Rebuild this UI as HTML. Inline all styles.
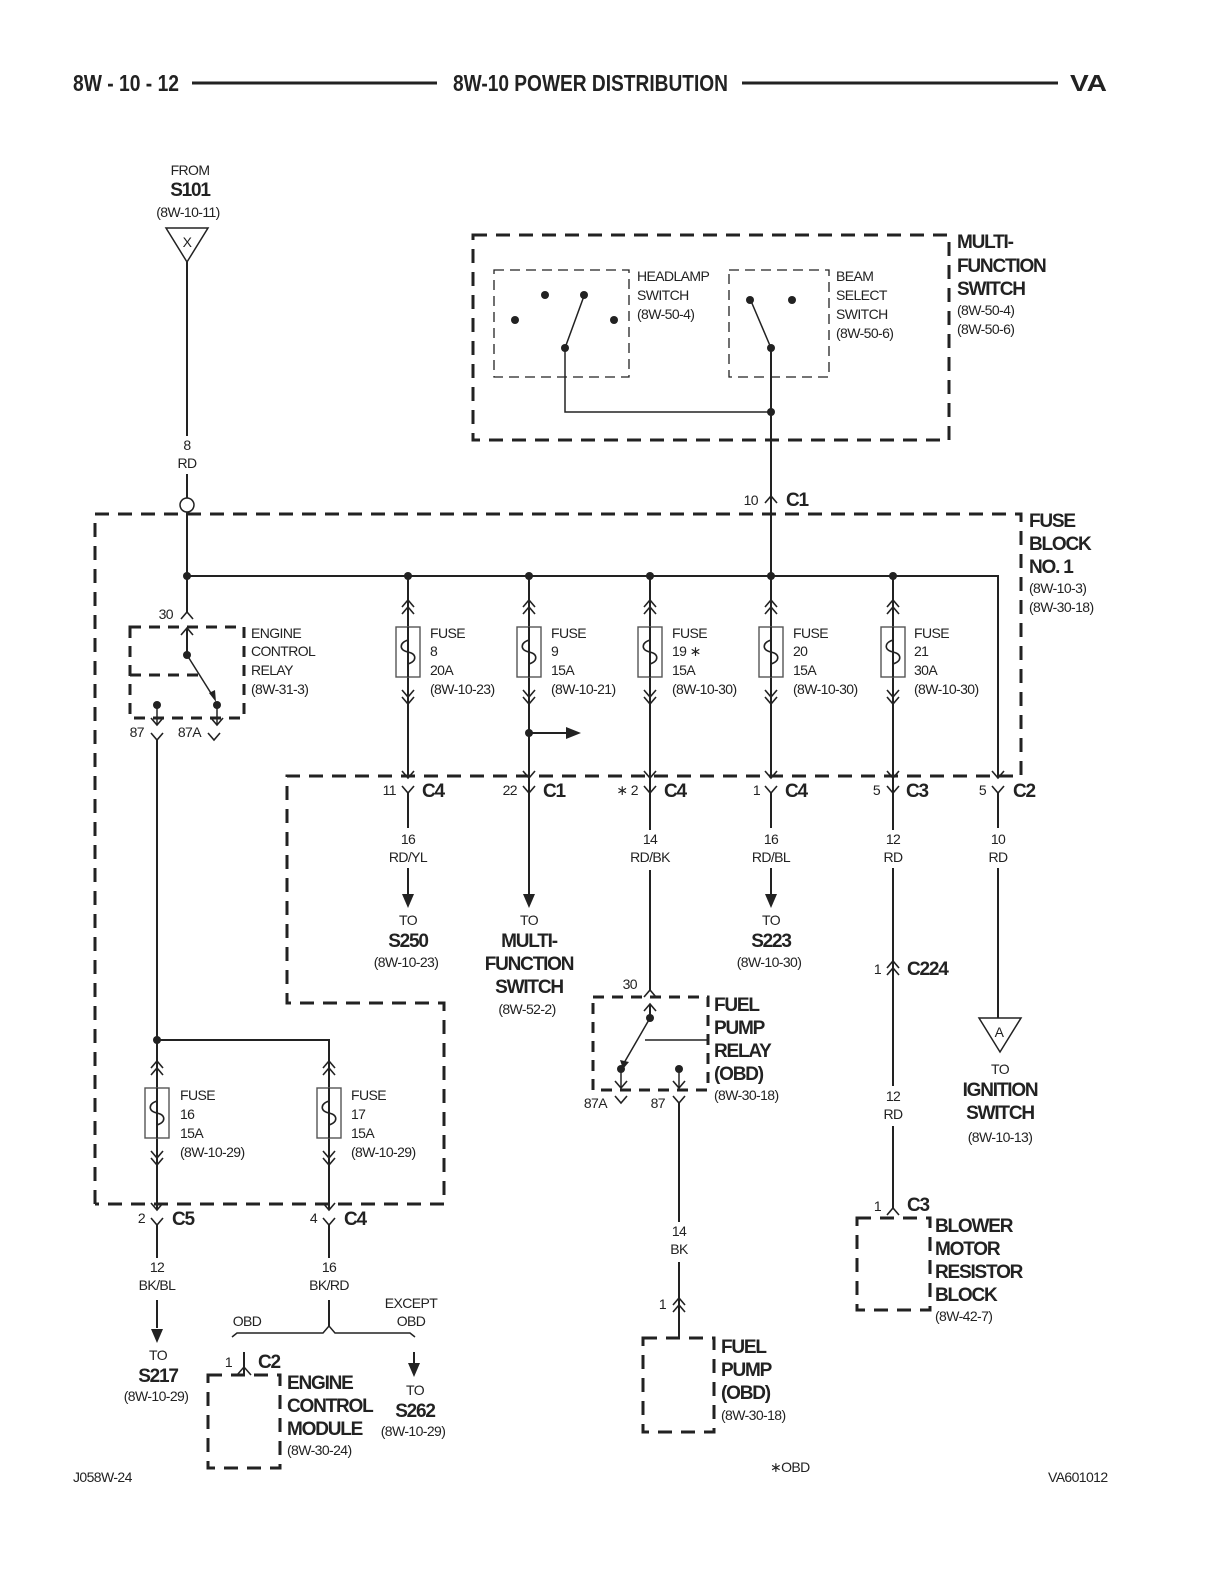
<!DOCTYPE html>
<html><head><meta charset="utf-8"><style>
html,body{margin:0;padding:0;background:#fff;overflow:hidden;width:1224px;height:1584px}
svg{display:block}
text{font-family:"Liberation Sans Narrow","Liberation Sans",sans-serif;fill:#222}
.s{font-size:14px;letter-spacing:-0.6px}
.b{font-size:19px;font-weight:bold;letter-spacing:-1.2px}
.h{font-size:23px;font-weight:bold}
.w{stroke:#222;stroke-width:2;fill:none}
.t{stroke:#222;stroke-width:1.5;fill:none}
.d{stroke:#222;stroke-width:3;fill:none;stroke-dasharray:14,9}
.dd{stroke:#222;stroke-width:1.3;fill:none;stroke-dasharray:10,6}
</style></head><body>
<svg width="1224" height="1584" viewBox="0 0 1224 1584" xmlns="http://www.w3.org/2000/svg">
<defs>
<path id="v" d="M-6,-7 L0,0 L6,-7" stroke="#222" stroke-width="1.6" fill="none"/>
<path id="c" d="M-6,7 L0,0 L6,7" stroke="#222" stroke-width="1.6" fill="none"/>
<g id="fuse">
<use href="#c" y="-27"/><use href="#c" y="-20"/>
<rect x="-12" y="0" width="24" height="50" fill="none" stroke="#555" stroke-width="1.4"/>
<path d="M0,0 V13 C-9,16 -9,23 0,25 C9,27 9,34 0,37 V50" stroke="#222" stroke-width="1.6" fill="none"/>
<use href="#v" y="70"/><use href="#v" y="77"/>
</g>
<path id="arr" d="M-6,-14 L6,-14 L0,0 Z" fill="#222"/>
<circle id="dot" r="4" fill="#222"/>
</defs>

<!-- header -->
<text x="73" y="91" class="h" textLength="106" lengthAdjust="spacingAndGlyphs">8W - 10 - 12</text>
<line x1="192" y1="83" x2="437" y2="83" stroke="#222" stroke-width="3"/>
<text x="453" y="91" class="h" textLength="275" lengthAdjust="spacingAndGlyphs">8W-10 POWER DISTRIBUTION</text>
<line x1="742" y1="83" x2="1058" y2="83" stroke="#222" stroke-width="3"/>
<text x="1070" y="91" class="h" textLength="37" lengthAdjust="spacingAndGlyphs">VA</text>

<!-- S101 -->
<text x="190" y="175" class="s" text-anchor="middle">FROM</text>
<text x="190" y="196" class="b" text-anchor="middle">S101</text>
<text x="188" y="217" class="s" text-anchor="middle">(8W-10-11)</text>
<path d="M166,228 L208,228 L187,262 Z" class="t"/>
<text x="187" y="247" class="s" text-anchor="middle">X</text>
<line x1="187" y1="262" x2="187" y2="436" class="w"/>
<text x="187" y="450" class="s" text-anchor="middle">8</text>
<text x="187" y="468" class="s" text-anchor="middle">RD</text>
<line x1="187" y1="474" x2="187" y2="498" class="w"/>
<circle cx="187" cy="505" r="7" fill="#fff" stroke="#222" stroke-width="1.5"/>
<line x1="187" y1="512" x2="187" y2="612" class="w"/>

<!-- Multi-function switch -->
<path d="M473,235 H949 V440 H473 Z" class="d"/>
<path d="M494,270 H629 V377 H494 Z" class="dd"/>
<path d="M729,270 H829 V377 H729 Z" class="dd"/>
<use href="#dot" x="515" y="320"/><use href="#dot" x="545" y="295"/><use href="#dot" x="584" y="295"/><use href="#dot" x="614" y="320"/>
<use href="#dot" x="565" y="348"/>
<line x1="565" y1="348" x2="584" y2="296" class="t"/>
<use href="#dot" x="750" y="300"/><use href="#dot" x="792" y="300"/><use href="#dot" x="771" y="348"/>
<line x1="771" y1="348" x2="751" y2="301" class="t"/>
<path d="M565,348 V412 H771" class="t"/>
<use href="#dot" x="771" y="412"/>
<line x1="771" y1="348" x2="771" y2="576" class="w"/>
<text x="637" y="281" class="s">HEADLAMP</text>
<text x="637" y="300" class="s">SWITCH</text>
<text x="637" y="319" class="s">(8W-50-4)</text>
<text x="836" y="281" class="s">BEAM</text>
<text x="836" y="300" class="s">SELECT</text>
<text x="836" y="319" class="s">SWITCH</text>
<text x="836" y="338" class="s">(8W-50-6)</text>
<text x="957" y="248" class="b">MULTI-</text>
<text x="957" y="272" class="b">FUNCTION</text>
<text x="957" y="295" class="b">SWITCH</text>
<text x="957" y="315" class="s">(8W-50-4)</text>
<text x="957" y="334" class="s">(8W-50-6)</text>
<use href="#c" x="771" y="496"/>
<text x="758" y="505" class="s" text-anchor="end">10</text>
<text x="786" y="506" class="b">C1</text>

<!-- Fuse block -->
<path d="M95,1204 V514 H1021 V776 H287 V1003 H444 V1204 H95" class="d"/>
<text x="1029" y="527" class="b">FUSE</text>
<text x="1029" y="550" class="b">BLOCK</text>
<text x="1029" y="573" class="b">NO. 1</text>
<text x="1029" y="593" class="s">(8W-10-3)</text>
<text x="1029" y="612" class="s">(8W-30-18)</text>

<path d="M187,576 H998 V778" class="w"/>
<use href="#dot" x="187" y="576"/><use href="#dot" x="408" y="576"/><use href="#dot" x="529" y="576"/><use href="#dot" x="650" y="576"/><use href="#dot" x="771" y="576"/><use href="#dot" x="893" y="576"/>

<!-- ECR -->
<use href="#c" x="187" y="612"/>
<text x="173" y="619" class="s" text-anchor="end">30</text>
<path d="M130,627 H244 V718 H130 Z" class="d" style="stroke-dasharray:11,8"/>
<line x1="130" y1="675" x2="200" y2="675" stroke="#222" stroke-width="3" stroke-dasharray="11,8"/>
<line x1="187" y1="628" x2="187" y2="655" class="w"/>
<use href="#c" x="187" y="628"/>
<use href="#dot" x="187" y="655"/>
<line x1="187" y1="655" x2="214" y2="698" class="t"/>
<path d="M209,693 L216,702 L215,690 Z" fill="#222"/>
<use href="#dot" x="157" y="705"/><use href="#dot" x="217" y="705"/>
<line x1="157" y1="705" x2="157" y2="725" class="t"/><line x1="217" y1="705" x2="217" y2="725" class="t"/>
<use href="#v" x="157" y="725"/><use href="#v" x="217" y="725"/>
<use href="#v" x="157" y="740"/><use href="#v" x="214" y="740"/>
<text x="144" y="737" class="s" text-anchor="end">87</text>
<text x="201" y="737" class="s" text-anchor="end">87A</text>
<text x="251" y="638" class="s">ENGINE</text>
<text x="251" y="656" class="s">CONTROL</text>
<text x="251" y="675" class="s">RELAY</text>
<text x="251" y="694" class="s">(8W-31-3)</text>
<line x1="157" y1="740" x2="157" y2="1210" class="w"/>
<path d="M157,1040 H329 V1210" class="w"/>
<use href="#dot" x="157" y="1040"/>

<!-- fuses in top row -->
<g class="w">
<line x1="408" y1="576" x2="408" y2="778"/>
<line x1="529" y1="576" x2="529" y2="895"/>
<line x1="650" y1="576" x2="650" y2="990"/>
<line x1="771" y1="576" x2="771" y2="778"/>
<line x1="893" y1="576" x2="893" y2="830"/>
</g>
<use href="#fuse" x="408" y="627"/><use href="#fuse" x="529" y="627"/><use href="#fuse" x="650" y="627"/><use href="#fuse" x="771" y="627"/><use href="#fuse" x="893" y="627"/>
<text x="430" y="638" class="s">FUSE</text><text x="430" y="656" class="s">8</text><text x="430" y="675" class="s">20A</text><text x="430" y="694" class="s">(8W-10-23)</text>
<text x="551" y="638" class="s">FUSE</text><text x="551" y="656" class="s">9</text><text x="551" y="675" class="s">15A</text><text x="551" y="694" class="s">(8W-10-21)</text>
<text x="672" y="638" class="s">FUSE</text><text x="672" y="656" class="s">19  ∗</text><text x="672" y="675" class="s">15A</text><text x="672" y="694" class="s">(8W-10-30)</text>
<text x="793" y="638" class="s">FUSE</text><text x="793" y="656" class="s">20</text><text x="793" y="675" class="s">15A</text><text x="793" y="694" class="s">(8W-10-30)</text>
<text x="914" y="638" class="s">FUSE</text><text x="914" y="656" class="s">21</text><text x="914" y="675" class="s">30A</text><text x="914" y="694" class="s">(8W-10-30)</text>
<use href="#dot" x="529" y="733"/>
<line x1="529" y1="733" x2="568" y2="733" class="w"/>
<path d="M566,727 L581,733 L566,739 Z" fill="#222"/>

<!-- connector row -->
<g>
<use href="#v" x="408" y="778"/><use href="#v" x="408" y="793"/>
<use href="#v" x="529" y="778"/><use href="#v" x="529" y="793"/>
<use href="#v" x="650" y="778"/><use href="#v" x="650" y="793"/>
<use href="#v" x="771" y="778"/><use href="#v" x="771" y="793"/>
<use href="#v" x="893" y="778"/><use href="#v" x="893" y="793"/>
<use href="#v" x="998" y="778"/><use href="#v" x="998" y="793"/>
</g>
<text x="396" y="795" class="s" text-anchor="end">11</text><text x="422" y="797" class="b">C4</text>
<text x="517" y="795" class="s" text-anchor="end">22</text><text x="543" y="797" class="b">C1</text>
<text x="638" y="795" class="s" text-anchor="end">∗ 2</text><text x="664" y="797" class="b">C4</text>
<text x="760" y="795" class="s" text-anchor="end">1</text><text x="785" y="797" class="b">C4</text>
<text x="880" y="795" class="s" text-anchor="end">5</text><text x="906" y="797" class="b">C3</text>
<text x="986" y="795" class="s" text-anchor="end">5</text><text x="1013" y="797" class="b">C2</text>

<g class="w">
<line x1="408" y1="793" x2="408" y2="828"/><line x1="408" y1="868" x2="408" y2="895"/>
<line x1="771" y1="793" x2="771" y2="828"/><line x1="771" y1="868" x2="771" y2="895"/>
<line x1="998" y1="793" x2="998" y2="828"/><line x1="998" y1="868" x2="998" y2="1018"/>
</g>
<rect x="630" y="830" width="40" height="40" fill="#fff"/>
<rect x="873" y="830" width="40" height="40" fill="#fff"/>
<line x1="893" y1="868" x2="893" y2="1086" class="w"/>
<text x="408" y="844" class="s" text-anchor="middle">16</text><text x="408" y="862" class="s" text-anchor="middle">RD/YL</text>
<text x="650" y="844" class="s" text-anchor="middle">14</text><text x="650" y="862" class="s" text-anchor="middle">RD/BK</text>
<text x="771" y="844" class="s" text-anchor="middle">16</text><text x="771" y="862" class="s" text-anchor="middle">RD/BL</text>
<text x="893" y="844" class="s" text-anchor="middle">12</text><text x="893" y="862" class="s" text-anchor="middle">RD</text>
<text x="998" y="844" class="s" text-anchor="middle">10</text><text x="998" y="862" class="s" text-anchor="middle">RD</text>
<use href="#arr" x="408" y="908"/><use href="#arr" x="529" y="908"/><use href="#arr" x="771" y="908"/>

<text x="408" y="925" class="s" text-anchor="middle">TO</text>
<text x="408" y="947" class="b" text-anchor="middle">S250</text>
<text x="406" y="967" class="s" text-anchor="middle">(8W-10-23)</text>
<text x="529" y="925" class="s" text-anchor="middle">TO</text>
<text x="529" y="947" class="b" text-anchor="middle">MULTI-</text>
<text x="529" y="970" class="b" text-anchor="middle">FUNCTION</text>
<text x="529" y="993" class="b" text-anchor="middle">SWITCH</text>
<text x="527" y="1014" class="s" text-anchor="middle">(8W-52-2)</text>
<text x="771" y="925" class="s" text-anchor="middle">TO</text>
<text x="771" y="947" class="b" text-anchor="middle">S223</text>
<text x="769" y="967" class="s" text-anchor="middle">(8W-10-30)</text>

<!-- C224 -->
<use href="#c" x="893" y="961"/><use href="#c" x="893" y="968"/>
<text x="881" y="974" class="s" text-anchor="end">1</text><text x="907" y="975" class="b">C224</text>
<rect x="873" y="1088" width="40" height="38" fill="#fff"/>
<text x="893" y="1101" class="s" text-anchor="middle">12</text><text x="893" y="1119" class="s" text-anchor="middle">RD</text>
<line x1="893" y1="1126" x2="893" y2="1208" class="w"/>
<use href="#c" x="893" y="1208"/>
<text x="881" y="1211" class="s" text-anchor="end">1</text><text x="907" y="1211" class="b">C3</text>
<path d="M857,1218 H930 V1310 H857 Z" class="d"/>
<text x="935" y="1232" class="b">BLOWER</text>
<text x="935" y="1255" class="b">MOTOR</text>
<text x="935" y="1278" class="b">RESISTOR</text>
<text x="935" y="1301" class="b">BLOCK</text>
<text x="935" y="1321" class="s">(8W-42-7)</text>

<!-- Ignition -->
<path d="M979,1018 L1021,1018 L1000,1052 Z" class="t"/>
<text x="999" y="1037" class="s" text-anchor="middle">A</text>
<text x="1000" y="1074" class="s" text-anchor="middle">TO</text>
<text x="1000" y="1096" class="b" text-anchor="middle">IGNITION</text>
<text x="1000" y="1119" class="b" text-anchor="middle">SWITCH</text>
<text x="1000" y="1142" class="s" text-anchor="middle">(8W-10-13)</text>

<!-- Fuel pump relay -->
<use href="#c" x="650" y="990"/>
<text x="637" y="989" class="s" text-anchor="end">30</text>
<path d="M593,997 H708 V1090 H593 Z" class="d" style="stroke-dasharray:11,8"/>
<line x1="645" y1="1040" x2="708" y2="1040" stroke="#222" stroke-width="1.4"/>
<line x1="650" y1="1004" x2="650" y2="1018" class="w"/>
<use href="#c" x="650" y="1004"/>
<use href="#dot" x="650" y="1018"/>
<line x1="650" y1="1018" x2="624" y2="1063" class="t"/>
<path d="M620,1060 L623,1069 L629,1062 Z" fill="#222"/>
<use href="#dot" x="621" y="1069"/><use href="#dot" x="679" y="1069"/>
<line x1="621" y1="1069" x2="621" y2="1088" class="t"/><line x1="679" y1="1069" x2="679" y2="1088" class="t"/>
<use href="#v" x="621" y="1088"/><use href="#v" x="679" y="1088"/>
<use href="#v" x="621" y="1103"/><use href="#v" x="679" y="1103"/>
<text x="607" y="1108" class="s" text-anchor="end">87A</text>
<text x="665" y="1108" class="s" text-anchor="end">87</text>
<text x="714" y="1011" class="b">FUEL</text>
<text x="714" y="1034" class="b">PUMP</text>
<text x="714" y="1057" class="b">RELAY</text>
<text x="714" y="1080" class="b">(OBD)</text>
<text x="714" y="1100" class="s">(8W-30-18)</text>
<line x1="679" y1="1103" x2="679" y2="1222" class="w"/>
<text x="679" y="1236" class="s" text-anchor="middle">14</text><text x="679" y="1254" class="s" text-anchor="middle">BK</text>
<line x1="679" y1="1262" x2="679" y2="1338" class="w"/>
<use href="#c" x="679" y="1298"/><use href="#c" x="679" y="1305"/>
<text x="666" y="1309" class="s" text-anchor="end">1</text>
<path d="M643,1338 H714 V1432 H643 Z" class="d"/>
<text x="721" y="1353" class="b">FUEL</text>
<text x="721" y="1376" class="b">PUMP</text>
<text x="721" y="1399" class="b">(OBD)</text>
<text x="721" y="1420" class="s">(8W-30-18)</text>

<!-- fuses 16/17 -->
<use href="#fuse" x="157" y="1088"/><use href="#fuse" x="329" y="1088"/>
<text x="180" y="1100" class="s">FUSE</text><text x="180" y="1119" class="s">16</text><text x="180" y="1138" class="s">15A</text><text x="180" y="1157" class="s">(8W-10-29)</text>
<text x="351" y="1100" class="s">FUSE</text><text x="351" y="1119" class="s">17</text><text x="351" y="1138" class="s">15A</text><text x="351" y="1157" class="s">(8W-10-29)</text>
<use href="#v" x="157" y="1210"/><use href="#v" x="157" y="1225"/>
<use href="#v" x="329" y="1210"/><use href="#v" x="329" y="1225"/>
<text x="145" y="1223" class="s" text-anchor="end">2</text><text x="172" y="1225" class="b">C5</text>
<text x="317" y="1223" class="s" text-anchor="end">4</text><text x="344" y="1225" class="b">C4</text>
<line x1="157" y1="1225" x2="157" y2="1258" class="w"/>
<line x1="329" y1="1225" x2="329" y2="1258" class="w"/>
<text x="157" y="1272" class="s" text-anchor="middle">12</text><text x="157" y="1290" class="s" text-anchor="middle">BK/BL</text>
<text x="329" y="1272" class="s" text-anchor="middle">16</text><text x="329" y="1290" class="s" text-anchor="middle">BK/RD</text>
<line x1="157" y1="1300" x2="157" y2="1328" class="w"/>
<use href="#arr" x="157" y="1343"/>
<text x="158" y="1360" class="s" text-anchor="middle">TO</text>
<text x="158" y="1382" class="b" text-anchor="middle">S217</text>
<text x="156" y="1401" class="s" text-anchor="middle">(8W-10-29)</text>
<line x1="329" y1="1300" x2="329" y2="1326" class="w"/>
<path d="M232,1337 L237,1333 H323 L329,1326 L335,1333 H410 L415,1337" class="t"/>
<text x="247" y="1326" class="s" text-anchor="middle">OBD</text>
<text x="411" y="1308" class="s" text-anchor="middle">EXCEPT</text>
<text x="411" y="1326" class="s" text-anchor="middle">OBD</text>
<line x1="244" y1="1352" x2="244" y2="1375" class="w"/>
<path d="M237,1375 L244,1367 L251,1375" class="t"/>
<text x="232" y="1367" class="s" text-anchor="end">1</text><text x="258" y="1368" class="b">C2</text>
<path d="M208,1375 H280 V1468 H208 Z" class="d"/>
<text x="287" y="1389" class="b">ENGINE</text>
<text x="287" y="1412" class="b">CONTROL</text>
<text x="287" y="1435" class="b">MODULE</text>
<text x="287" y="1455" class="s">(8W-30-24)</text>
<line x1="414" y1="1352" x2="414" y2="1365" class="w"/>
<use href="#arr" x="414" y="1377"/>
<text x="415" y="1395" class="s" text-anchor="middle">TO</text>
<text x="415" y="1417" class="b" text-anchor="middle">S262</text>
<text x="413" y="1436" class="s" text-anchor="middle">(8W-10-29)</text>

<!-- footer -->
<text x="73" y="1482" class="s">J058W-24</text>
<text x="770" y="1472" class="s">∗OBD</text>
<text x="1048" y="1482" class="s">VA601012</text>
</svg>
</body></html>
